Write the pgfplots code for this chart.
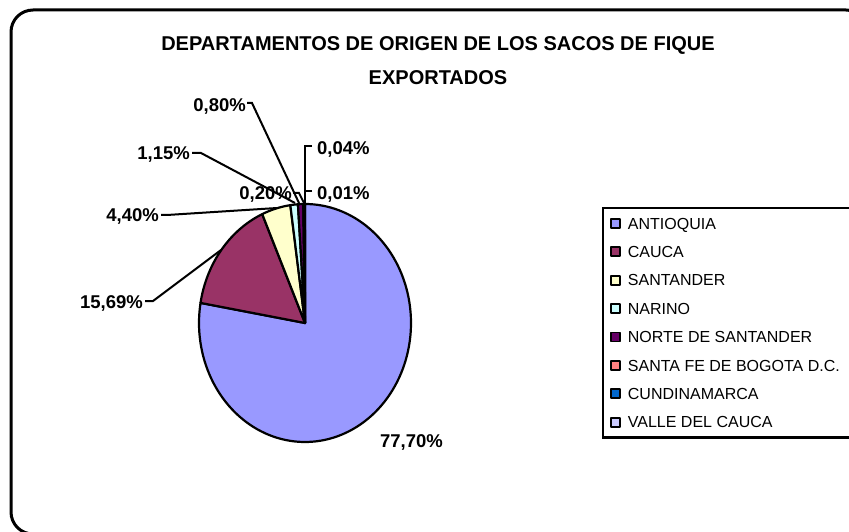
\documentclass[border=0pt]{standalone}
\usepackage{pgfplots}
\usepackage{pgfplotstable}
\pgfplotsset{compat=1.18}
\usepackage{fontspec}
\setmainfont{Liberation Sans}
\definecolor{pie0}{HTML}{9999FF}
\definecolor{pie1}{HTML}{993366}
\definecolor{pie2}{HTML}{FFFFCC}
\definecolor{pie3}{HTML}{CCFFFF}
\definecolor{pie4}{HTML}{660066}
\definecolor{pie5}{HTML}{FF8080}
\definecolor{pie6}{HTML}{0066CC}
\definecolor{pie7}{HTML}{CCCCFF}
% percentages per department
\pgfplotstableread{
name pct
ANTIOQUIA 77.70
CAUCA 15.69
SANTANDER 4.40
NARINO 1.15
NORTE 0.80
SANTAFE 0.20
CUNDINAMARCA 0.04
VALLE 0.01
}\piedata
\xdef\cumpct{0}%
\pgfplotsforeachungrouped \i in {0,...,7}{%
  \pgfplotstablegetelem{\i}{pct}\of\piedata%
  \pgfmathsetmacro\sa{90-3.6*\cumpct}%
  \pgfmathsetmacro\cumpctnew{\cumpct+\pgfplotsretval}%
  \pgfmathsetmacro\se{90-3.6*\cumpctnew}%
  \expandafter\xdef\csname sA\i\endcsname{\sa}%
  \expandafter\xdef\csname sE\i\endcsname{\se}%
  \xdef\cumpct{\cumpctnew}%
}%
\begin{document}
\begin{tikzpicture}[x=1pt,y=1pt]
\useasboundingbox (0,0) rectangle (849,531);
\begin{axis}[
  at={(0,0)}, anchor=south west,
  scale only axis, width=849pt, height=531pt,
  xmin=0, xmax=849, ymin=0, ymax=531,
  hide axis, clip=false,
  legend style={at={(0.70907,0.61017)}, anchor=north west, draw=black,
    line width=2.2pt, font=\fontsize{16}{19}\selectfont,
    inner xsep=7pt, inner ysep=8.5pt, row sep=14.9pt, column sep=6pt,
    nodes={inner sep=1pt, text height=11.5pt, text depth=0pt}},
  legend cell align=left,
  legend image code/.code={\draw[#1, line width=1.8pt] (0pt,-4.5pt) rectangle (9pt,4.5pt);},
]
% outer frame
\draw[line width=3pt, rounded corners=22pt] (axis cs:11,-3) rectangle (axis cs:868,521);
% pie slices
\pgfplotsinvokeforeach{0,...,7}{
  \addplot[draw=black, line width=2.2pt, line join=round, fill=pie#1,
    domain={\csname sE#1\endcsname}:{\csname sA#1\endcsname}, samples=120, variable=\t]
    ({305+106*cos(t)},{208+119*sin(t)}) -- (axis cs:305,208) -- cycle;
}
\legend{\makebox[235pt][l]{ANTIOQUIA},CAUCA,SANTANDER,NARINO,NORTE DE SANTANDER,SANTA FE DE BOGOTA D.C.,CUNDINAMARCA,VALLE DEL CAUCA}
% leader lines
\addplot[forget plot, black, line width=2pt] coordinates {(145,230) (153,230) (221,281)};
\addplot[forget plot, black, line width=2pt] coordinates {(161,316) (167,316) (277,323)};
\addplot[forget plot, black, line width=2pt] coordinates {(192,378) (201,378) (295,328)};
\addplot[forget plot, black, line width=2pt] coordinates {(247,428) (252,428) (299,328)};
\addplot[forget plot, black, line width=2pt] coordinates {(293,338) (299,338) (304,328)};
\addplot[forget plot, black, line width=2pt] coordinates {(312,385) (305,385) (305,328)};
\addplot[forget plot, black, line width=2pt] coordinates {(312,340) (305,340) (305,328)};
% title
\node[font=\fontsize{20}{24}\selectfont\bfseries, anchor=base] at (axis cs:438,480) {DEPARTAMENTOS DE ORIGEN DE LOS SACOS DE FIQUE};
\node[font=\fontsize{20}{24}\selectfont\bfseries, anchor=base] at (axis cs:438,446) {EXPORTADOS};
% data labels
\begin{scope}[every node/.style={font=\fontsize{18.5}{22}\selectfont\bfseries, inner sep=0pt}]
\node[anchor=base east] at (axis cs:443,84) {77,70\%};
\node[anchor=base east] at (axis cs:143,223) {15,69\%};
\node[anchor=base east] at (axis cs:159,309) {4,40\%};
\node[anchor=base east] at (axis cs:190,371) {1,15\%};
\node[anchor=base east] at (axis cs:246,419) {0,80\%};
\node[anchor=base east] at (axis cs:292,331) {0,20\%};
\node[anchor=base west] at (axis cs:317,376) {0,04\%};
\node[anchor=base west] at (axis cs:317,331) {0,01\%};
\end{scope}
\end{axis}
\end{tikzpicture}
\end{document}
